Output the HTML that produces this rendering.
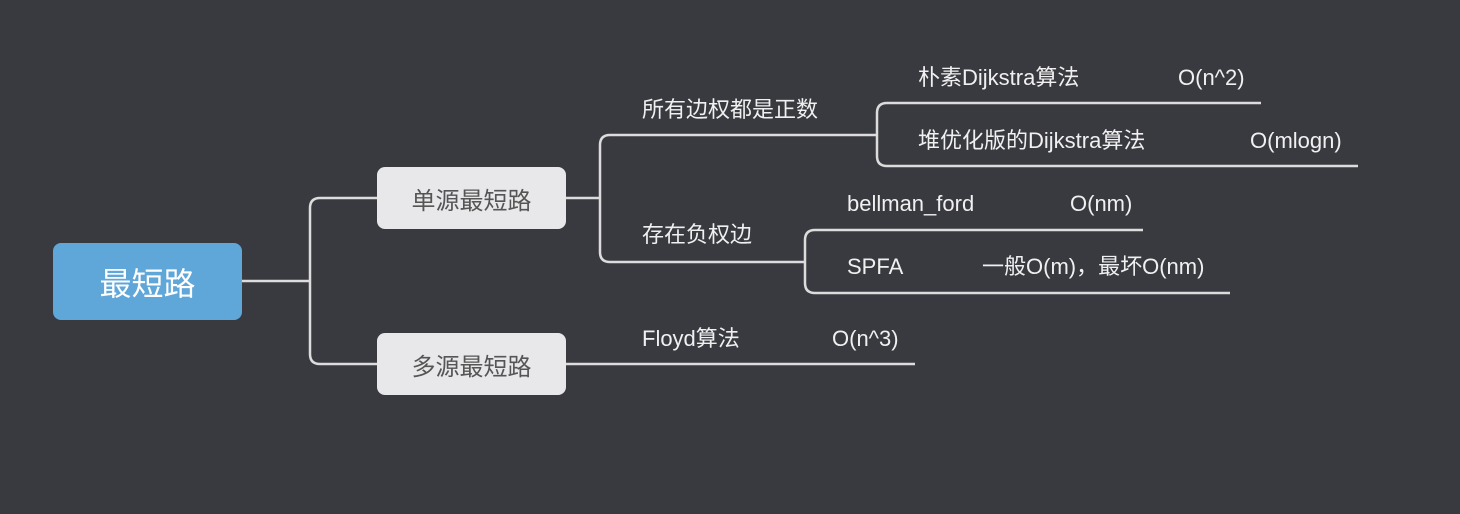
<!DOCTYPE html>
<html><head><meta charset="utf-8"><style>
body{margin:0;width:1460px;height:514px;background:#393a40;overflow:hidden;position:relative;font-family:"Liberation Sans","Noto Sans CJK SC",sans-serif}
.t{position:absolute;color:#f0f0f0;font-size:22px;line-height:30px;white-space:nowrap}
.box{position:absolute;border-radius:8px;display:flex;align-items:center;justify-content:center}
</style></head><body>
<svg width="1460" height="514" style="position:absolute;left:0;top:0" fill="none" stroke="#dcdcdc" stroke-width="2.5">
<path d="M242 281H310"/>
<path d="M377 198H320Q310 198 310 208V354Q310 364 320 364H377"/>
<path d="M566 198H600"/>
<path d="M877 135H610Q600 135 600 145V252Q600 262 610 262H805"/>
<path d="M1261 103H887Q877 103 877 113V156Q877 166 887 166H1358"/>
<path d="M1143 230H815Q805 230 805 240V283Q805 293 815 293H1230"/>
<path d="M566 364H915"/>
</svg>
<div class="box" style="left:53px;top:243px;width:189px;height:77px;background:#5fa6d9;color:#fff;font-size:32px">最短路</div>
<div class="box" style="left:377px;top:167px;width:189px;height:62px;background:#e8e8ea;color:#555;font-size:24px">单源最短路</div>
<div class="box" style="left:377px;top:333px;width:189px;height:62px;background:#e8e8ea;color:#555;font-size:24px">多源最短路</div>
<div class="t" style="left:642px;top:95px">所有边权都是正数</div>
<div class="t" style="left:642px;top:220px">存在负权边</div>
<div class="t" style="left:918px;top:63px">朴素Dijkstra算法</div>
<div class="t" style="left:1178px;top:63px">O(n^2)</div>
<div class="t" style="left:918px;top:126px">堆优化版的Dijkstra算法</div>
<div class="t" style="left:1250px;top:126px">O(mlogn)</div>
<div class="t" style="left:847px;top:189px">bellman_ford</div>
<div class="t" style="left:1070px;top:189px">O(nm)</div>
<div class="t" style="left:847px;top:252px">SPFA</div>
<div class="t" style="left:982px;top:252px">一般O(m)，最坏O(nm)</div>
<div class="t" style="left:642px;top:324px">Floyd算法</div>
<div class="t" style="left:832px;top:324px">O(n^3)</div>
</body></html>
